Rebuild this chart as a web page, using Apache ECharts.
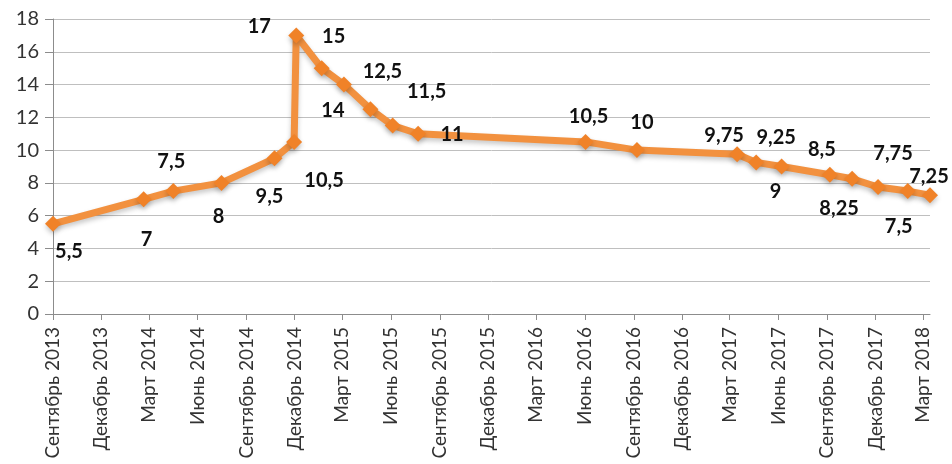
<!DOCTYPE html>
<html>
<head>
<meta charset="utf-8">
<script src="https://cdn.jsdelivr.net/npm/echarts@6/dist/echarts.min.js"></script>
<style>
html,body{margin:0;padding:0;background:#fff;}
#chart{width:952px;height:464px;}
</style>
</head>
<body>
<div id="chart"></div>
<script>
// Data: key rate change dates and values
var dates = ['2013-09-13','2014-03-03','2014-04-28','2014-07-28','2014-11-05','2014-12-12','2014-12-16','2015-02-02','2015-03-16','2015-05-05','2015-06-16','2015-08-03','2016-06-14','2016-09-19','2017-03-27','2017-05-02','2017-06-19','2017-09-18','2017-10-30','2017-12-18','2018-02-12','2018-03-26'];
var rates = [5.5, 7, 7.5, 8, 9.5, 10.5, 17, 15, 14, 12.5, 11.5, 11, 10.5, 10, 9.75, 9.25, 9, 8.5, 8.25, 7.75, 7.5, 7.25];
// Tick dates (every 3 months from the first date)
var tickDates = ['2013-09-13','2013-12-13','2014-03-13','2014-06-13','2014-09-13','2014-12-13','2015-03-13','2015-06-13','2015-09-13','2015-12-13','2016-03-13','2016-06-13','2016-09-13','2016-12-13','2017-03-13','2017-06-13','2017-09-13','2017-12-13','2018-03-13'];
var monthNames = ['Январь','Февраль','Март','Апрель','Май','Июнь','Июль','Август','Сентябрь','Октябрь','Ноябрь','Декабрь'];
var yTicks = {min: 0, max: 18, interval: 2};

// Layout: label offsets (dx, dy) from each point
var labelOffsets = [[16,28],[3,40],[-2,-30],[-3,34],[-5,38],[30,39],[-37,-9],[12,-32],[-11,26],[12,-38],[34,-34],[34,1],[3,-25],[5,-28],[-13,-19],[20,-25],[-6,25],[-8,-25],[-13,30],[15,-33],[-9,35],[-1,-19]];

function ts(s){var p=s.split('-');return Date.UTC(+p[0],+p[1]-1,+p[2]);}

var seriesData = dates.map(function(d,i){
  return {
    value:[ts(d), rates[i]],
    label:{offset: labelOffsets[i]}
  };
});
var tickValues = tickDates.map(ts);

var chart = echarts.init(document.getElementById('chart'));
var font = 'Lato, "Noto Sans", sans-serif';
chart.setOption({
  animation:false,
  backgroundColor:'#fff',
  grid:{left:53, right:22, top:19, bottom:150, containLabel:false},
  xAxis:{
    type:'value',
    min: ts(dates[0]),
    max: ts(dates[dates.length-1]),
    axisLine:{show:true, lineStyle:{color:'#8c8c8c', width:1}},
    axisTick:{show:true, length:6, customValues: tickValues, lineStyle:{color:'#8c8c8c'}},
    splitLine:{show:false},
    axisLabel:{
      customValues: tickValues,
      rotate:90,
      fontFamily:font,
      fontSize:19,
      color:'#333',
      margin:13,
      formatter:function(v){var d=new Date(v);return monthNames[d.getUTCMonth()]+' '+d.getUTCFullYear();}
    }
  },
  yAxis:{
    type:'value',
    min:yTicks.min, max:yTicks.max, interval:yTicks.interval,
    axisLine:{show:true, lineStyle:{color:'#8c8c8c', width:1}},
    axisTick:{show:true, length:8, lineStyle:{color:'#8c8c8c'}},
    splitLine:{show:true, lineStyle:{color:'#bfbfbf', width:1}},
    axisLabel:{fontFamily:font, fontSize:20, color:'#333', margin:14}
  },
  series:[{
    type:'line',
    data: seriesData,
    symbol:'diamond',
    symbolSize:16,
    lineStyle:{color:'#F2913F', width:7, shadowColor:'rgba(0,0,0,0.22)', shadowBlur:5, shadowOffsetY:3},
    itemStyle:{color:'#F08228', shadowColor:'rgba(0,0,0,0.22)', shadowBlur:5, shadowOffsetY:3},
    label:{
      show:true,
      position:'inside',
      fontFamily:font,
      fontWeight:'bold',
      fontSize:20,
      color:'#111',
      formatter:function(p){return String(p.value[1]).replace('.',',');}
    },
    z:3
  }]
});
</script>
</body>
</html>
